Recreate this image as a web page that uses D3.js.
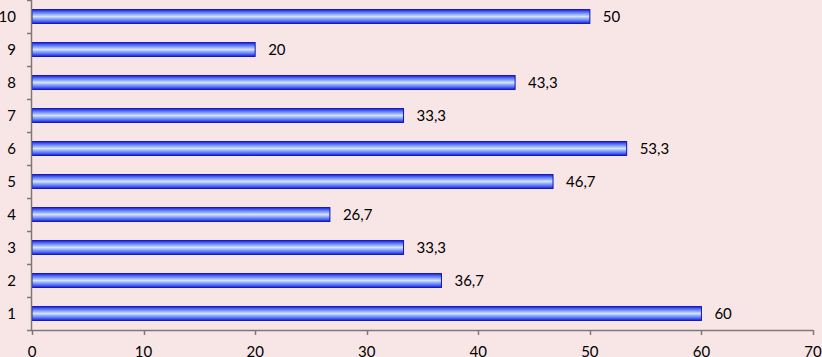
<!DOCTYPE html>
<html><head><meta charset="utf-8">
<script src="https://cdn.jsdelivr.net/npm/d3@7"></script>
<style>
html,body{margin:0;padding:0;background:#f8e6e7;}
svg{display:block;}
text{font-family:Lato,"Open Sans",sans-serif;font-size:15px;fill:#000;}
</style></head><body>
<svg id="c" width="822" height="357"></svg>
<script>
const categories = ["1","2","3","4","5","6","7","8","9","10"];
const values = [60, 36.7, 33.3, 26.7, 46.7, 53.3, 33.3, 43.3, 20, 50];
const xTicks = [0,10,20,30,40,50,60,70];

(function(){
const svg = d3.select("#c");
const mL = 32, mR = 813, mT = 0, mB = 330;
const x = d3.scaleLinear().domain([0,70]).range([mL,mR]);
const y = d3.scaleBand().domain(categories.slice().reverse()).range([mT,mB])
  .paddingInner(0.58).paddingOuter(0.29);

const defs = svg.append("defs");
const g = defs.append("linearGradient").attr("id","bg").attr("x1",0).attr("y1",0).attr("x2",0).attr("y2",1);
[[0,"#1a22e0"],[0.2,"#5a78f4"],[0.5,"#d2e3ff"],[0.8,"#5a78f4"],[1,"#1a22e0"]]
  .forEach(([o,c])=>g.append("stop").attr("offset",o).attr("stop-color",c));

const fmt = v => String(v).replace(".", ",");

svg.selectAll("rect.bar").data(values).join("rect").attr("class","bar")
  .attr("x", x(0)).attr("y",(d,i)=>y(categories[i]))
  .attr("width", d=>x(d)-x(0)).attr("height", y.bandwidth())
  .attr("fill","url(#bg)").attr("stroke","#1010c0").attr("stroke-width",1);

svg.selectAll("text.val").data(values).join("text").attr("class","val")
  .attr("x", d=>x(d)+13).attr("y",(d,i)=>y(categories[i])+y.bandwidth()/2)
  .attr("dy","0.35em").text(fmt);

const axisColor = "#7f7777";
const xa = svg.append("g");
xa.append("line").attr("x1",x(0)).attr("x2",x(70)).attr("y1",mB+0.5).attr("y2",mB+0.5)
  .attr("stroke",axisColor).attr("stroke-width",1.5);
xTicks.forEach(t=>{
  xa.append("line").attr("x1",Math.round(x(t))+0.5).attr("x2",Math.round(x(t))+0.5)
    .attr("y1",mB).attr("y2",mB+5).attr("stroke",axisColor).attr("stroke-width",1.5);
  xa.append("text").attr("x",x(t)).attr("y",352).attr("text-anchor","middle").attr("dy","0.35em").text(t);
});
const ya = svg.append("g");
ya.append("line").attr("x1",mL-0.5).attr("x2",mL-0.5).attr("y1",mT).attr("y2",mB)
  .attr("stroke",axisColor).attr("stroke-width",1.5);
const step = y.step();
for(let i=0;i<=categories.length;i++){
  const yy = Math.round(mT + i*step)+0.5;
  ya.append("line").attr("x1",mL-5).attr("x2",mL).attr("y1",yy).attr("y2",yy)
    .attr("stroke",axisColor).attr("stroke-width",1.5);
}
categories.forEach(c=>{
  ya.append("text").attr("x",16).attr("y",y(c)+y.bandwidth()/2).attr("dy","0.35em")
    .attr("text-anchor","end").text(c);
});
})();
</script>
</body></html>
